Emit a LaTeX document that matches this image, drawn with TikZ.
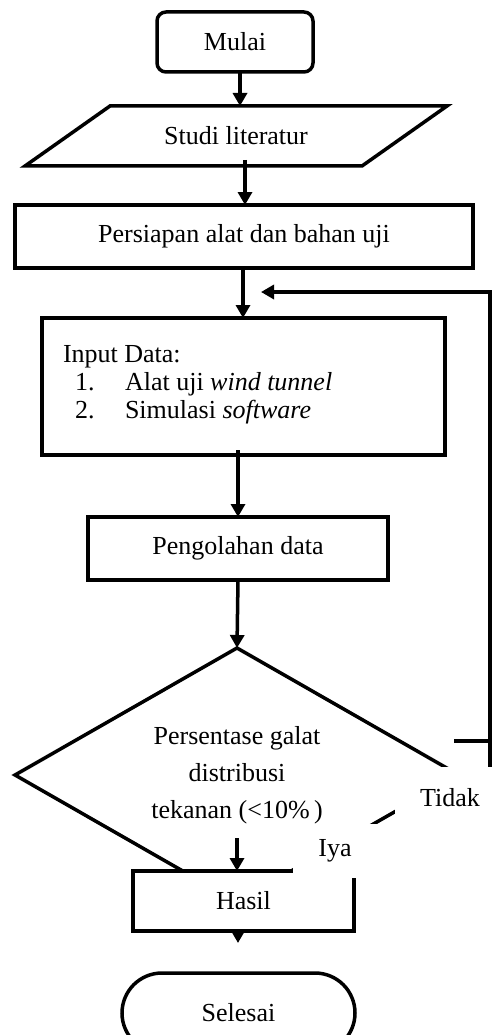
\documentclass[tikz,border=0pt]{standalone}
\usepackage{fontspec}
\setmainfont{Liberation Serif}
\usetikzlibrary{arrows.meta,shapes.geometric}
\begin{document}
\begin{tikzpicture}[x=1pt,y=-1pt,
  every node/.style={font=\fontsize{26}{31}\selectfont, inner sep=0pt, outer sep=0pt},
  ln/.style={line width=3.5pt},
  arr/.style={line width=3.5pt, -{Triangle[length=13pt,width=14pt]}},
  lbl/.style={fill=white}
]
\clip (0,0) rectangle (492,1035);
\fill[white] (0,0) rectangle (492,1035);

% nodes
\node[draw, ln, rounded corners=9pt, minimum width=156pt, minimum height=60pt] (mulai) at (235,42) {Mulai};
\draw[ln, line join=miter] (110,106) -- (447,106) -- (362,166) -- (25,166) -- cycle;
\node[minimum width=250pt, minimum height=60pt] (studi) at (236,136) {Studi literatur};
\node[draw, ln, minimum width=458pt, minimum height=63pt] (persiapan) at (244,236.5) {\raisebox{-3pt}{Persiapan alat dan bahan uji}};
\node[draw, ln, minimum width=403pt, minimum height=137pt] (input) at (243.5,386.5) {};
\node[anchor=base west] (in0) at (63,362) {Input Data:};
\node[anchor=base west] (in1n) at (75,390) {1.};
\node[anchor=base west] (in1) at (125,390) {Alat uji \textit{wind tunnel}};
\node[anchor=base west] (in2n) at (75,418) {2.};
\node[anchor=base west] (in2) at (125,418) {Simulasi \textit{software}};
\node[draw, ln, minimum width=300pt, minimum height=63pt] (olah) at (238,548.5) {Pengolahan data};
\node[draw, ln, diamond, aspect=1.75, minimum width=444pt, minimum height=254pt, align=center,
      font=\fontsize{26}{37}\selectfont] (dec) at (237,775) {Persentase galat\\distribusi\\tekanan (<10\%\,)};

% connectors
\draw[arr] ([xshift=5pt]mulai.south) -- ([xshift=5pt]mulai.south |- studi.north);
\draw[arr] ([xshift=9pt,yshift=6pt]studi.south) -- ([xshift=9pt]studi.south |- persiapan.north);
\draw[arr] ([xshift=-1pt]persiapan.south) -- ([xshift=-1pt]persiapan.south |- input.north);
\draw[arr] ([xshift=-5.5pt,yshift=5pt]input.south) -- ([xshift=-5.5pt]input.south |- olah.north);
\draw[arr] (olah.south) -- (dec.north);
\coordinate (fbEnd) at (261,292);
\coordinate (fbCorner) at (490,775);
\draw[arr, line join=miter] (dec.east) -- (fbCorner) |- (fbEnd);
\coordinate (stubA) at (454,741);
\draw[ln] (stubA) -- (stubA -| fbCorner);

\node[draw, ln, fill=white, minimum width=221pt, minimum height=60pt] (hasil) at (243.5,901) {Hasil};
\coordinate (yaStart) at (237,838);
\draw[arr] (yaStart) -- (yaStart |- hasil.north);
\coordinate (hasilEnd) at (238,943);
\draw[arr] (hasilEnd |- hasil.south) -- (hasilEnd);
\node[draw, ln, rounded corners=40pt, minimum width=233pt, minimum height=80pt] (selesai) at (238.5,1013) {Selesai};

% labels
\node[lbl, minimum width=110pt, minimum height=62pt] (tidak) at (450,798) {Tidak};
\node[lbl, minimum width=84pt, minimum height=54pt] (iya) at (335,851) {Iya};
\end{tikzpicture}
\end{document}
